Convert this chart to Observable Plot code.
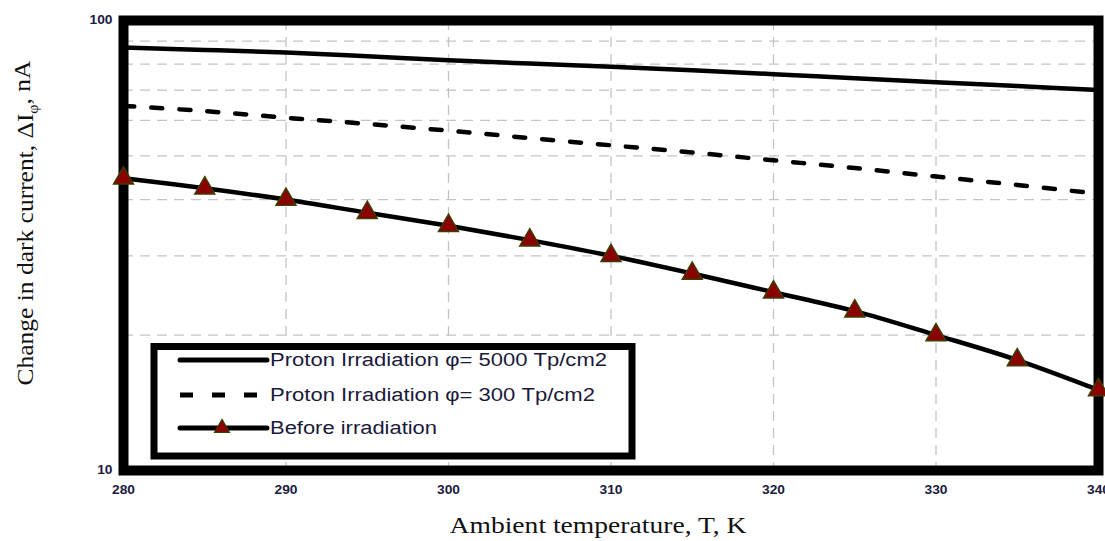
<!DOCTYPE html>
<html>
<head>
<meta charset="utf-8">
<script src="https://cdn.jsdelivr.net/npm/d3@7"></script>
<script src="https://cdn.jsdelivr.net/npm/@observablehq/plot@0.6"></script>
<style>
  body { margin: 0; background: #fff; }
</style>
</head>
<body>
<div id="chart"></div>
<script>
// Dark current change vs. ambient temperature, three irradiation states
const temperature = [280, 285, 290, 295, 300, 305, 310, 315, 320, 325, 330, 335, 340];
const proton5000 = [87.1, 86.0, 84.9, 83.3, 81.6, 80.2, 78.9, 77.5, 76.0, 74.4, 72.9, 71.5, 70.1];
const proton300 = [64.6, 62.9, 60.8, 58.9, 56.9, 54.8, 52.8, 50.9, 48.9, 47.0, 45.0, 43.1, 41.2];
const beforeIrradiation = [44.6, 42.4, 40.0, 37.4, 35.0, 32.5, 30.0, 27.4, 24.9, 22.6, 20.0, 17.6, 15.1];

const seriesNames = [
  "Proton Irradiation \u03c6= 5000 Tp/cm2",
  "Proton Irradiation \u03c6= 300 Tp/cm2",
  "Before irradiation"
];

const xTicks = [280, 290, 300, 310, 320, 330, 340];
const yTicks = [10, 100];
const xGrid = [290, 300, 310, 320, 330];
const yGrid = [20, 30, 40, 50, 60, 70, 80, 90];

const rows = vals => temperature.map((t, i) => ({t, v: vals[i]}));
const gridStyle = {stroke: "#c4c4c4", strokeWidth: 1.3, strokeDasharray: "10,7"};

const chart = Plot.plot({
  width: 1105,
  height: 541,
  marginLeft: 123,
  marginRight: 7,
  marginTop: 20,
  marginBottom: 71,
  style: {
    fontFamily: "'Liberation Sans', Arial, sans-serif",
    fontSize: "12px",
    fontWeight: "bold",
    color: "#1b2040",
    background: "#fff"
  },
  x: {domain: [280, 340], ticks: xTicks, tickSize: 0, tickPadding: 15, label: null, tickFormat: d => String(d)},
  y: {type: "log", domain: [10, 100], ticks: yTicks, tickSize: 0, tickPadding: 11, label: null, tickFormat: d => String(d)},
  marks: [
    Plot.ruleY(yGrid, gridStyle),
    Plot.ruleX(xGrid, gridStyle),
    Plot.frame({stroke: "#000", strokeWidth: 10}),
    Plot.line(rows(proton5000), {x: "t", y: "v", stroke: "#000", strokeWidth: 4.5, curve: "catmull-rom"}),
    Plot.line(rows(proton300), {x: "t", y: "v", stroke: "#000", strokeWidth: 4.5, strokeDasharray: "11,17", curve: "catmull-rom"}),
    Plot.line(rows(beforeIrradiation), {x: "t", y: "v", stroke: "#000", strokeWidth: 4.5, curve: "catmull-rom"}),
    Plot.dot(rows(beforeIrradiation), {x: "t", y: "v", symbol: "triangle", r: 7.4, fill: "#8b0000", stroke: "#3d3d00", strokeWidth: 1.5})
  ]
});

document.getElementById("chart").appendChild(chart);

const svg = d3.select(chart);

// widen the tick labels slightly
svg.selectAll("g[aria-label$='tick label'] text").each(function() {
  const tr = this.getAttribute("transform") || "";
  this.setAttribute("transform", tr + " scale(1.15,1)");
});

// axis titles
svg.append("text")
  .attr("x", 598).attr("y", 533)
  .attr("text-anchor", "middle")
  .attr("font-family", "'Liberation Serif', 'Times New Roman', serif")
  .attr("font-size", 23)
  .attr("font-weight", "normal")
  .attr("fill", "#111")
  .attr("textLength", 297)
  .attr("lengthAdjust", "spacingAndGlyphs")
  .text("Ambient temperature, T, K");

const yTitle = svg.append("text")
  .attr("transform", "translate(33,223) rotate(-90)")
  .attr("text-anchor", "middle")
  .attr("font-family", "'Liberation Serif', 'Times New Roman', serif")
  .attr("font-size", 24)
  .attr("font-weight", "normal")
  .attr("fill", "#111")
  .attr("textLength", 325)
  .attr("lengthAdjust", "spacingAndGlyphs");
yTitle.append("tspan").text("Change in dark current, \u0394I");
yTitle.append("tspan").attr("dy", "0.3em").attr("font-size", 15).text("\u03c6");
yTitle.append("tspan").attr("dy", "-0.3em").text(", nA");

// legend box
const legend = svg.append("g");
legend.append("rect")
  .attr("x", 154).attr("y", 346.5)
  .attr("width", 478).attr("height", 109.5)
  .attr("fill", "#fff").attr("stroke", "#000").attr("stroke-width", 7);

const rowY = [360, 395, 428];
const labelLengths = [337, 325, 167];

legend.append("line")
  .attr("x1", 180).attr("x2", 267).attr("y1", rowY[0]).attr("y2", rowY[0])
  .attr("stroke", "#000").attr("stroke-width", 5).attr("stroke-linecap", "round");
legend.append("line")
  .attr("x1", 180).attr("x2", 257).attr("y1", rowY[1]).attr("y2", rowY[1])
  .attr("stroke", "#000").attr("stroke-width", 5).attr("stroke-dasharray", "13,19");
legend.append("line")
  .attr("x1", 180).attr("x2", 267).attr("y1", rowY[2]).attr("y2", rowY[2])
  .attr("stroke", "#000").attr("stroke-width", 5).attr("stroke-linecap", "round");
legend.append("path")
  .attr("transform", `translate(222,${rowY[2]})`)
  .attr("d", d3.symbol(d3.symbolTriangle, 97)())
  .attr("fill", "#8b0000").attr("stroke", "#3d3d00").attr("stroke-width", 1.2);

seriesNames.forEach((name, i) => {
  legend.append("text")
    .attr("x", 270).attr("y", rowY[i]).attr("dy", "0.36em")
    .attr("text-anchor", "start")
    .attr("font-family", "'Liberation Sans', Arial, sans-serif")
    .attr("font-size", 18)
    .attr("font-weight", "normal")
    .attr("fill", "#1a1a3a")
    .attr("textLength", labelLengths[i])
    .attr("lengthAdjust", "spacingAndGlyphs")
    .text(name);
});
</script>
</body>
</html>
